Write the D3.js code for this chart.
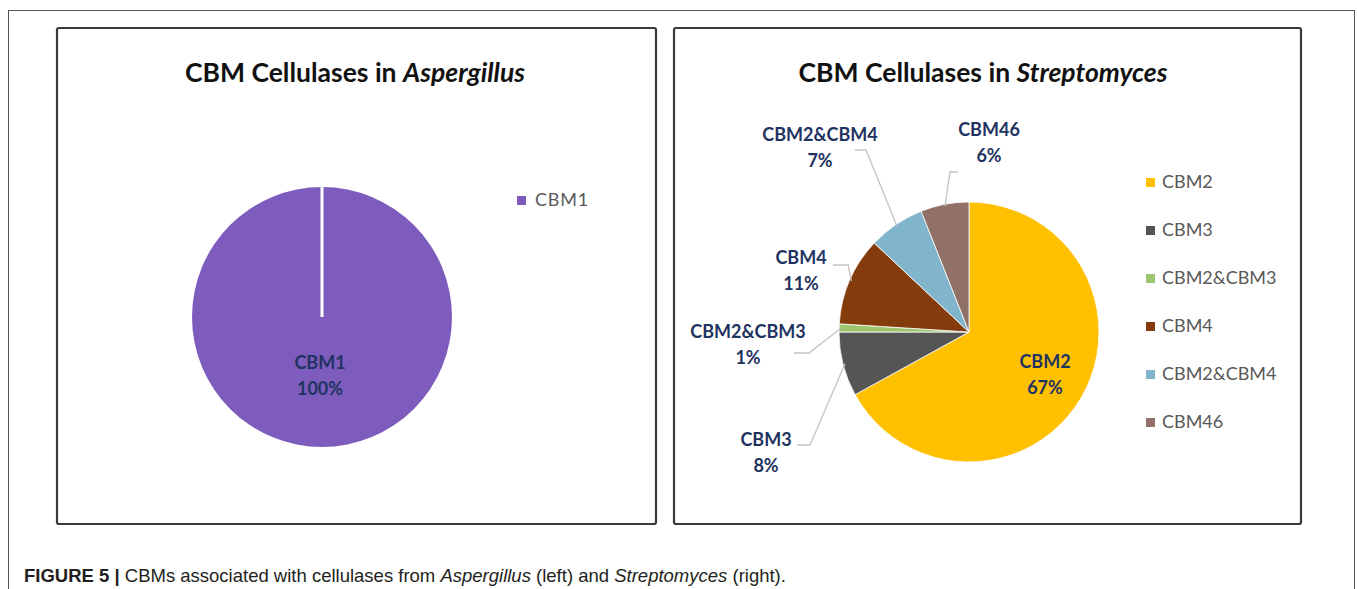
<!DOCTYPE html>
<html>
<head>
<meta charset="utf-8">
<script src="https://cdn.jsdelivr.net/npm/d3@7"></script>
<style>
  body { margin: 0; background: #fff; }
  svg { display: block; }
</style>
</head>
<body>
<div id="figure"></div>
<script>
// data
var leftNames = ["CBM1"];
var leftValues = [100];
var leftColors = ["#7e5cbd"];

var rightNames = ["CBM2", "CBM3", "CBM2&CBM3", "CBM4", "CBM2&CBM4", "CBM46"];
var rightValues = [67, 8, 1, 11, 7, 6];
var rightColors = ["#ffc000", "#555555", "#9dc56e", "#843c0c", "#80b5cc", "#917067"];

var size = { width: 1357, height: 589 };

var svg = d3.select("#figure").append("svg")
  .attr("width", size.width)
  .attr("height", size.height);

// outer figure frame
svg.append("rect")
  .attr("x", 8.5).attr("y", 10.5)
  .attr("width", 1346).attr("height", 620)
  .attr("fill", "none").attr("stroke", "#555").attr("stroke-width", 1);

// panels
var panels = [
  { x: 57, y: 28, w: 599, h: 496 },
  { x: 674, y: 28, w: 627, h: 496 }
];
svg.selectAll("rect.panel")
  .data(panels)
  .enter().append("rect")
  .attr("class", "panel")
  .attr("x", function(d) { return d.x; })
  .attr("y", function(d) { return d.y; })
  .attr("width", function(d) { return d.w; })
  .attr("height", function(d) { return d.h; })
  .attr("rx", 2)
  .attr("fill", "#fff")
  .attr("stroke", "#3a3a3a")
  .attr("stroke-width", 2.2);

function title(x, y, genus) {
  var t = svg.append("text")
    .attr("x", x).attr("y", y)
    .attr("text-anchor", "middle")
    .attr("font-family", "Lato, 'Open Sans', sans-serif")
    .attr("font-weight", "bold")
    .attr("font-size", 26.5)
    .attr("fill", "#111");
  t.append("tspan").text("CBM Cellulases in ");
  t.append("tspan").attr("font-style", "italic").text(genus);
}
title(355, 82, "Aspergillus");
title(983, 82, "Streptomyces");

var pie = d3.pie().sort(null).value(function(d) { return d.value; });
var radius = 130;
var arc = d3.arc().innerRadius(0).outerRadius(radius);

var labelColor = "#1f3361";
var labelFont = "Lato, 'Open Sans', sans-serif";

// ---------- left pie ----------
var leftData = leftNames.map(function(n, i) { return { name: n, value: leftValues[i], color: leftColors[i] }; });
var leftG = svg.append("g").attr("transform", "translate(322,317)");
var leftArcs = pie(leftData);
leftG.selectAll("path")
  .data(leftArcs)
  .enter().append("path")
  .attr("d", arc)
  .attr("fill", function(d) { return d.data.color; });
// slice border at the start angle
leftG.selectAll("line.edge")
  .data(leftArcs)
  .enter().append("line")
  .attr("x1", 0).attr("y1", 0)
  .attr("x2", function(d) { return Math.sin(d.startAngle) * radius; })
  .attr("y2", function(d) { return -Math.cos(d.startAngle) * radius; })
  .attr("stroke", "#fff").attr("stroke-width", 3);

var leftLab = leftG.selectAll("text.lab")
  .data(leftArcs)
  .enter().append("text")
  .attr("class", "lab")
  .attr("text-anchor", "middle")
  .attr("font-family", labelFont)
  .attr("font-weight", "bold")
  .attr("font-size", 18)
  .attr("fill", labelColor);
leftLab.append("tspan").attr("x", -2).attr("y", 52).text(function(d) { return d.data.name; });
leftLab.append("tspan").attr("x", -2).attr("y", 78).text(function(d) { return d.data.value + "%"; });

// left legend
var leftLeg = svg.append("g").attr("transform", "translate(517,200)");
leftLeg.selectAll("rect")
  .data(leftData)
  .enter().append("rect")
  .attr("x", 0).attr("y", function(d, i) { return i * 48 - 4; })
  .attr("width", 9).attr("height", 9)
  .attr("fill", function(d) { return d.color; });
leftLeg.selectAll("text")
  .data(leftData)
  .enter().append("text")
  .attr("x", 18).attr("y", function(d, i) { return i * 48 + 6; })
  .attr("font-family", labelFont)
  .attr("font-size", 18)
  .attr("letter-spacing", 0.8)
  .attr("fill", "#595959")
  .text(function(d) { return d.name; });

// ---------- right pie ----------
var rightData = rightNames.map(function(n, i) { return { name: n, value: rightValues[i], color: rightColors[i] }; });
var cx = 969, cy = 332;
var rightG = svg.append("g").attr("transform", "translate(" + cx + "," + cy + ")");
var rightArcs = pie(rightData);
rightG.selectAll("path")
  .data(rightArcs)
  .enter().append("path")
  .attr("d", arc)
  .attr("fill", function(d) { return d.data.color; })
  .attr("stroke", "#fff").attr("stroke-width", 0.8);

// label placement (offsets from pie centre) and leader elbows
var labelLayout = {
  "CBM2":      { x: 76,   y: 30,   line: null },
  "CBM3":      { x: -203, y: 108,  line: [[-172, 113], [-159, 113]] },
  "CBM2&CBM3": { x: -221, y: 0,    line: [[-175, 21], [-160, 21]] },
  "CBM4":      { x: -168, y: -74,  line: [[-136, -67], [-121, -67]] },
  "CBM2&CBM4": { x: -149, y: -197, line: [[-114, -182], [-103, -182]] },
  "CBM46":     { x: 20,   y: -202, line: [[-11, -160], [-19, -160]] }
};

// leader lines
rightG.selectAll("polyline")
  .data(rightArcs.filter(function(d) { return labelLayout[d.data.name].line; }))
  .enter().append("polyline")
  .attr("points", function(d) {
    var l = labelLayout[d.data.name].line;
    var a = (d.startAngle + d.endAngle) / 2;
    var end = [Math.sin(a) * (radius - 2), -Math.cos(a) * (radius - 2)];
    return [l[0], l[1], end].map(function(p) { return p.join(","); }).join(" ");
  })
  .attr("fill", "none")
  .attr("stroke", "#c4c4c4")
  .attr("stroke-width", 1.3);

var rightLab = rightG.selectAll("text.lab")
  .data(rightArcs)
  .enter().append("text")
  .attr("class", "lab")
  .attr("text-anchor", "middle")
  .attr("font-family", labelFont)
  .attr("font-weight", "bold")
  .attr("font-size", 18)
  .attr("fill", labelColor);
rightLab.append("tspan")
  .attr("x", function(d) { return labelLayout[d.data.name].x; })
  .attr("y", function(d) { return labelLayout[d.data.name].y + 6; })
  .text(function(d) { return d.data.name; });
rightLab.append("tspan")
  .attr("x", function(d) { return labelLayout[d.data.name].x; })
  .attr("y", function(d) { return labelLayout[d.data.name].y + 32; })
  .text(function(d) { return d.data.value + "%"; });

// right legend
var rightLeg = svg.append("g").attr("transform", "translate(1146,182)");
rightLeg.selectAll("rect")
  .data(rightData)
  .enter().append("rect")
  .attr("x", 0).attr("y", function(d, i) { return i * 48 - 4; })
  .attr("width", 9).attr("height", 9)
  .attr("fill", function(d) { return d.color; });
rightLeg.selectAll("text")
  .data(rightData)
  .enter().append("text")
  .attr("x", 16).attr("y", function(d, i) { return i * 48 + 6; })
  .attr("font-family", labelFont)
  .attr("font-size", 18)
  .attr("fill", "#595959")
  .text(function(d) { return d.name; });

// caption
var cap = svg.append("text")
  .attr("x", 24).attr("y", 582)
  .attr("font-family", "'Liberation Sans', Arial, sans-serif")
  .attr("font-size", 18.5)
  .attr("fill", "#231f20");
cap.append("tspan").attr("font-weight", "bold").text("FIGURE 5 | ");
cap.append("tspan").text("CBMs associated with cellulases from ");
cap.append("tspan").attr("font-style", "italic").text("Aspergillus");
cap.append("tspan").text(" (left) and ");
cap.append("tspan").attr("font-style", "italic").text("Streptomyces");
cap.append("tspan").text(" (right).");
</script>
</body>
</html>
